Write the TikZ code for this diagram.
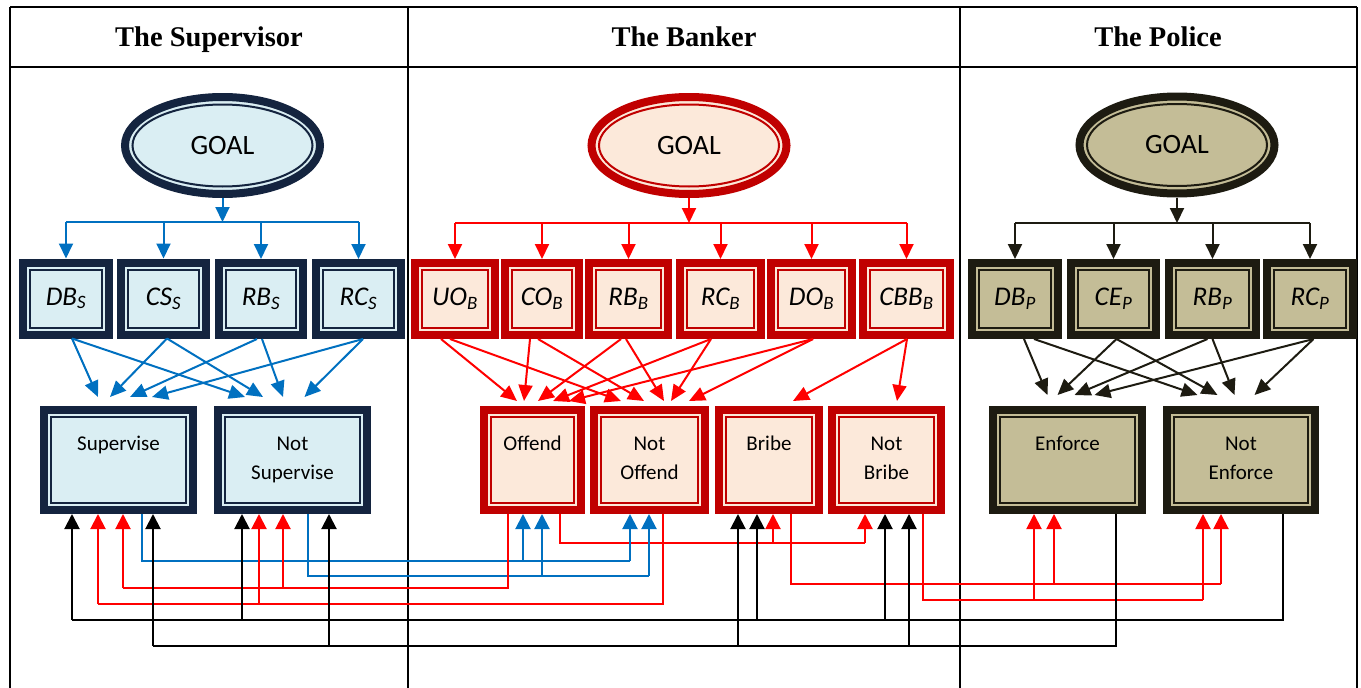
\documentclass[tikz,border=0pt]{standalone}
\usepackage{fontspec}
\setmainfont{Carlito}
\newfontfamily\headfont{Liberation Serif}
\usetikzlibrary{arrows.meta,shapes.geometric}

\definecolor{navyS}{HTML}{14243F}
\definecolor{lightS}{HTML}{DAEEF3}
\definecolor{arrowS}{HTML}{0070C0}
\definecolor{darkB}{HTML}{C00000}
\definecolor{lightB}{HTML}{FCE9DA}
\definecolor{arrowB}{HTML}{FF0000}
\definecolor{darkP}{HTML}{1D1B11}
\definecolor{lightP}{HTML}{C4BD97}

\newcommand\hdfont{\headfont\bfseries\fontsize{28.5}{34}\selectfont}
\newcommand\goalfont{\fontsize{28}{34}\selectfont}
\newcommand\varfont{\fontsize{27}{32}\selectfont\itshape}
\newcommand\actfont{\fontsize{21}{29}\selectfont}
\newcommand\varsub[2]{#1\textsubscript{#2}}

\tikzset{
	goalnode/.style 2 args={ellipse, draw=#1, fill=#2, line width=8pt, inner sep=0pt,
		minimum width=195pt, minimum height=97pt, font=\goalfont,
		path picture={\draw[#1, line width=2pt] (path picture bounding box.center) ellipse [x radius=90pt, y radius=41pt];}},
	boxnode/.style 2 args={rectangle, draw=#1, fill=#2, line width=8pt, inner sep=0pt,
		path picture={\draw[#1, line width=2pt] ([shift={(7,7)}]path picture bounding box.north west) rectangle ([shift={(-7,-7)}]path picture bounding box.south east);}},
	varnode/.style={font=\varfont, minimum height=72pt},
	actnode/.style={font=\actfont, align=center, text height=43pt, text depth=5pt, minimum height=100pt},
	tabline/.style={line width=2pt},
	barline/.style={line width=2pt, color=#1},
	distarrow/.style={line width=2pt, color=#1, -{Triangle[length=15pt,width=14pt]}},
	crossarrow/.style={line width=2pt, color=#1, -{Triangle[length=16pt,width=14pt]}},
	routeline/.style={line width=1.3pt, color=#1},
	uparrow/.style={line width=2pt, color=#1, -{Triangle[length=15pt,width=15pt]}},
}

\begin{document}
\begin{tikzpicture}[x=1pt,y=-1pt]
	\useasboundingbox (0,0) rectangle (1361,688);
	
	%%%%% TABLE %%%%%
	\draw[tabline] (10,7) -- (1357,7);
	\draw[tabline] (10,67) -- (1357,67);
	\foreach \x in {10,408,960,1357}
		\draw[tabline] (\x,7) -- (\x,688);
	
	\node[anchor=base, font=\hdfont] (hS) at (209,46) {The Supervisor};
	\node[anchor=base, font=\hdfont] (hB) at (684,46) {The Banker};
	\node[anchor=base, font=\hdfont] (hP) at (1158,46) {The Police};
	
	%%%%% SUPERVISOR %%%%%
	\node[goalnode={navyS}{lightS}] (gS) at (222.5,145.5) {GOAL};
	
	\node[boxnode={navyS}{lightS}, varnode, minimum width=86pt] (dbS) at (66,298.5) {\varsub{DB}{S}};
	\node[boxnode={navyS}{lightS}, varnode, minimum width=85pt] (csS) at (163.5,298.5) {\varsub{CS}{S}};
	\node[boxnode={navyS}{lightS}, varnode, minimum width=84pt] (rbS) at (261,299) {\varsub{RB}{S}};
	\node[boxnode={navyS}{lightS}, varnode, minimum width=85pt] (rcS) at (358.5,299) {\varsub{RC}{S}};
	
	\node[boxnode={navyS}{lightS}, actnode, minimum width=149pt] (supS) at (118.5,460) {Supervise\\~};
	\node[boxnode={navyS}{lightS}, actnode, minimum width=149pt] (nsupS) at (292.5,460) {Not\\Supervise};
	
	%%%%% BANKER %%%%%
	\node[goalnode={darkB}{lightB}] (gB) at (689,145.5) {GOAL};
	
	\node[boxnode={darkB}{lightB}, varnode, minimum width=80pt] (uoB) at (455,299) {\varsub{UO}{B}};
	\node[boxnode={darkB}{lightB}, varnode, minimum width=74pt] (coB) at (542,299) {\varsub{CO}{B}};
	\node[boxnode={darkB}{lightB}, varnode, minimum width=79pt] (rbB) at (628.5,299) {\varsub{RB}{B}};
	\node[boxnode={darkB}{lightB}, varnode, minimum width=81pt] (rcB) at (720.5,299) {\varsub{RC}{B}};
	\node[boxnode={darkB}{lightB}, varnode, minimum width=81pt] (doB) at (811.5,299) {\varsub{DO}{B}};
	\node[boxnode={darkB}{lightB}, varnode, minimum width=87pt] (cbbB) at (906.5,299) {\varsub{CBB}{B}};
	
	\node[boxnode={darkB}{lightB}, actnode, minimum width=97pt] (offB) at (532.5,460) {Offend\\~};
	\node[boxnode={darkB}{lightB}, actnode, minimum width=111pt] (noffB) at (649.5,460) {Not\\Offend};
	\node[boxnode={darkB}{lightB}, actnode, minimum width=100pt] (bribB) at (769,460) {Bribe\\~};
	\node[boxnode={darkB}{lightB}, actnode, minimum width=109pt] (nbribB) at (886.5,460) {Not\\Bribe};
	
	%%%%% POLICE %%%%%
	\node[goalnode={darkP}{lightP}] (gP) at (1177,145) {GOAL};
	
	\node[boxnode={darkP}{lightP}, varnode, minimum width=86pt] (dbP) at (1015,299) {\varsub{DB}{P}};
	\node[boxnode={darkP}{lightP}, varnode, minimum width=85pt] (ceP) at (1113.5,299) {\varsub{CE}{P}};
	\node[boxnode={darkP}{lightP}, varnode, minimum width=87pt] (rbP) at (1212.5,299) {\varsub{RB}{P}};
	\node[boxnode={darkP}{lightP}, varnode, minimum width=86pt] (rcP) at (1310,299) {\varsub{RC}{P}};
	
	\node[boxnode={darkP}{lightP}, actnode, minimum width=149pt] (enfP) at (1067.5,460) {Enforce\\~};
	\node[boxnode={darkP}{lightP}, actnode, minimum width=148pt] (nenfP) at (1241,460) {Not\\Enforce};
	
	%%%%% GOAL TO FACTORS %%%%%
	\coordinate (barS) at (222.5,222);
	\coordinate (barB) at (689,223);
	\coordinate (barP) at (1177,223);
	
	\draw[distarrow=arrowS] (gS.south) -- (barS);
	\draw[barline=arrowS] (dbS.north |- barS) -- (rcS.north |- barS);
	\foreach \n in {dbS,csS,rbS,rcS}
		\draw[distarrow=arrowS] (\n.north |- barS) -- (\n.north);
	
	\draw[distarrow=arrowB] (gB.south) -- (barB);
	\draw[barline=arrowB] (uoB.north |- barB) -- (cbbB.north |- barB);
	\foreach \n in {uoB,coB,rbB,rcB,doB,cbbB}
		\draw[distarrow=arrowB] (\n.north |- barB) -- (\n.north);
	
	\draw[distarrow=darkP] (gP.south) -- (barP);
	\draw[barline=darkP] (dbP.north |- barP) -- (rcP.north |- barP);
	\foreach \n in {dbP,ceP,rbP,rcP}
		\draw[distarrow=darkP] (\n.north |- barP) -- (\n.north);
	
	%%%%% FACTORS TO ACTIONS %%%%%
	\foreach \a/\sa/\b/\tb in {dbS/6/supS/-20.5, dbS/6/nsupS/-47.5, csS/3.5/supS/-8.5, csS/3.5/nsupS/-29.5,
			rbS/-4/supS/11.5, rbS/1/nsupS/-9.5, rcS/4.5/supS/33.5, rcS/4.5/nsupS/12}
		\draw[crossarrow=arrowS] ([xshift=\sa]\a.south) -- ([xshift=\tb, yshift=9]\b.north);
	
	\foreach \a/\sa/\b/\tb in {uoB/-14/offB/-15.5, uoB/-5/noffB/-28.5, coB/-12/offB/-8.5, coB/-4/noffB/-5.5,
			rbB/-7.5/offB/5.5, rbB/-2.5/noffB/14.5, rcB/-9.5/offB/20.5, rcB/-9.5/noffB/21.5,
			doB/1.5/offB/36.5, doB/1.5/noffB/39.5, cbbB/0.5/bribB/24, cbbB/0.5/nbribB/10.5}
		\draw[crossarrow=arrowB] ([xshift=\sa]\a.south) -- ([xshift=\tb, yshift=5]\b.north);
	
	\foreach \a/\sa/\b/\tb in {dbP/9/enfP/-20, dbP/19/nenfP/-43.5, ceP/3/enfP/-10, ceP/3/nenfP/-23.5,
			rbP/-5/enfP/7, rbP/0/nenfP/-6.5, rcP/3.5/enfP/27, rcP/3.5/nenfP/13.5}
		\draw[crossarrow=darkP] ([xshift=\sa]\a.south) -- ([xshift=\tb, yshift=11]\b.north);
	
	%%%%% ACTIONS TO OTHER PLAYERS %%%%%
	\coordinate (b1a) at (523,561);  \coordinate (b1b) at (630,561);
	\coordinate (b2a) at (542,576);  \coordinate (b2b) at (649,576);
	\coordinate (r1a) at (123,588);  \coordinate (r1b) at (283,588);
	\coordinate (r2a) at (98,604);   \coordinate (r2b) at (259,604);
	\coordinate (r3a) at (773,543);  \coordinate (r3b) at (865,543);
	\coordinate (r4a) at (1054,584); \coordinate (r4b) at (1221,584);
	\coordinate (r5a) at (1034,600); \coordinate (r5b) at (1203,600);
	\coordinate (k1a) at (72,620);   \coordinate (k1b) at (242,620);
	\coordinate (k1c) at (757,620);  \coordinate (k1d) at (885,620);
	\coordinate (k2a) at (153,646);  \coordinate (k2b) at (329,646);
	\coordinate (k2c) at (738,646);  \coordinate (k2d) at (909,646);
	
	\draw[routeline=arrowS] ([xshift=23.5]supS.south) |- (b1b);
	\draw[routeline=arrowS] ([xshift=15.5]nsupS.south) |- (b2b);
	\draw[routeline=arrowB] ([xshift=-24.5]offB.south) |- (r1a);
	\draw[routeline=arrowB] ([xshift=13.5]noffB.south) |- (r2a);
	\draw[routeline=arrowB] ([xshift=27.5]offB.south) |- (r3b);
	\draw[routeline=arrowB] ([xshift=22]bribB.south) |- (r4b);
	\draw[routeline=arrowB] ([xshift=36.5]nbribB.south) |- (r5b);
	\draw[routeline=black] ([xshift=42]nenfP.south) |- (k1a);
	\draw[routeline=black] ([xshift=48.5]enfP.south) |- (k2a);
	
	\foreach \j/\n in {b1a/offB, b1b/noffB, b2a/offB, b2b/noffB}
		\draw[uparrow=arrowS] (\j) -- (\j |- \n.south);
	\foreach \j/\n in {r1a/supS, r1b/nsupS, r2a/supS, r2b/nsupS, r3a/bribB, r3b/nbribB,
			r4a/enfP, r4b/nenfP, r5a/enfP, r5b/nenfP}
		\draw[uparrow=arrowB] (\j) -- (\j |- \n.south);
	\foreach \j/\n in {k1a/supS, k1b/nsupS, k1c/bribB, k1d/nbribB, k2a/supS, k2b/nsupS, k2c/bribB, k2d/nbribB}
		\draw[uparrow=black] (\j) -- (\j |- \n.south);
	
\end{tikzpicture}
\end{document}
